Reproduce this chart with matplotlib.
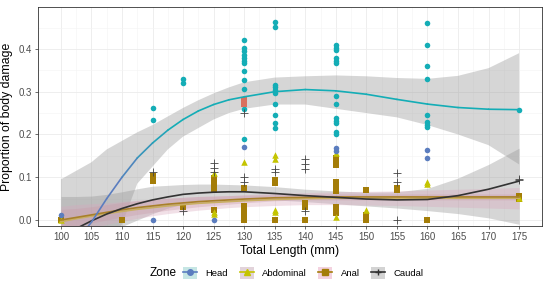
import numpy as np
import matplotlib
matplotlib.use("Agg")
import matplotlib.pyplot as plt
from matplotlib.collections import LineCollection
from matplotlib.colors import LinearSegmentedColormap
from matplotlib.patches import Patch
from matplotlib.lines import Line2D

plt.rcParams['font.family'] = ['Liberation Sans', 'DejaVu Sans']

# raw points
head_x = [115, 115, 120, 120] + [130] * 12 + [135] * 10 + [145] * 13 + [160] * 8 + [175]
head_y = [0.263, 0.233, 0.329, 0.321,
          0.422, 0.401, 0.396, 0.385, 0.378, 0.371, 0.366, 0.349, 0.327, 0.306, 0.26, 0.189,
          0.462, 0.452, 0.315, 0.31, 0.304, 0.296, 0.271, 0.245, 0.226, 0.215,
          0.409, 0.403, 0.397, 0.378, 0.371, 0.366, 0.29, 0.271, 0.238, 0.232, 0.226, 0.206, 0.2,
          0.46, 0.41, 0.36, 0.33, 0.245, 0.23, 0.222, 0.218,
          0.258]
head_lo_x = [100, 115, 125, 130, 145, 145, 160, 160]
head_lo_y = [0.012, 0.0, 0.0, 0.17, 0.168, 0.161, 0.164, 0.144]
head_odd_x = [130, 130]
head_odd_y = [0.28, 0.272]

abd_x = [100, 125, 125, 125, 130, 135, 135, 135, 135, 145, 145, 150, 160, 160, 175]
abd_y = [0.0, 0.111, 0.018, 0.015, 0.135, 0.152, 0.143, 0.023, 0.018, 0.156, 0.006, 0.023, 0.09, 0.085, 0.052]

anal_x = ([100, 110, 115, 115, 115, 120] + [125] * 5 + [130] * 7 + [135] * 3 + [140] * 3
          + [145] * 10 + [150] * 3 + [155, 155, 160, 175, 175])
anal_y = ([0.0, 0.0, 0.104, 0.098, 0.092, 0.03,
           0.098, 0.09, 0.08, 0.07, 0.023,
           0.075, 0.033, 0.025, 0.018, 0.01, 0.005, 0.0,
           0.093, 0.087, 0.0,
           0.04, 0.03, 0.0,
           0.145, 0.136, 0.128, 0.09, 0.082, 0.075, 0.068, 0.031, 0.023, 0.016,
           0.07, 0.012, 0.0,
           0.075, 0.07, 0.0, 0.05, 0.056])

caud_x = [115, 120, 125, 125, 125, 130, 130, 130, 135, 135, 140, 140, 140, 140, 155, 155, 155, 175, 175]
caud_y = [0.113, 0.02, 0.133, 0.122, 0.113, 0.25, 0.1, 0.09, 0.119, 0.113,
          0.142, 0.132, 0.12, 0.02, 0.109, 0.09, 0.0, 0.093, 0.096]

# smoothers (fit, lower, upper) read at these lengths
fit_x = [100, 102.5, 105, 107.5, 110, 112.5, 115, 117.5, 120, 122.5, 125, 127.5,
         130, 135, 140, 145, 150, 155, 160, 165, 170, 175]
head_fit = [-0.12, -0.05, -0.005, 0.05, 0.10, 0.145, 0.18, 0.21, 0.235, 0.255, 0.27, 0.281,
            0.288, 0.30, 0.305, 0.302, 0.294, 0.282, 0.271, 0.263, 0.259, 0.258]
head_lo = [-0.35, -0.25, -0.15, -0.07, -0.01, 0.085, 0.125, 0.165, 0.195, 0.215, 0.235, 0.25,
           0.26, 0.27, 0.27, 0.26, 0.25, 0.24, 0.222, 0.2, 0.175, 0.13]
head_hi = [0.095, 0.115, 0.135, 0.165, 0.185, 0.205, 0.222, 0.242, 0.262, 0.28, 0.296, 0.31,
           0.322, 0.333, 0.336, 0.338, 0.336, 0.332, 0.33, 0.337, 0.355, 0.39]

caud_fit = [-0.04, -0.02, -0.002, 0.014, 0.027, 0.038, 0.047, 0.054, 0.06, 0.063, 0.065, 0.066,
            0.066, 0.062, 0.057, 0.053, 0.049, 0.047, 0.048, 0.057, 0.072, 0.091]
caud_lo = [-0.13, -0.09, -0.06, -0.035, -0.015, 0.0, 0.015, 0.028, 0.037, 0.043, 0.047, 0.049,
           0.05, 0.047, 0.043, 0.038, 0.033, 0.028, 0.022, 0.015, 0.005, -0.01]
caud_hi = [0.055, 0.055, 0.056, 0.06, 0.066, 0.073, 0.079, 0.081, 0.083, 0.084, 0.084, 0.083,
           0.082, 0.078, 0.072, 0.068, 0.065, 0.066, 0.074, 0.098, 0.13, 0.168]

anal_fit = [0.0, 0.006, 0.012, 0.018, 0.024, 0.029, 0.033, 0.037, 0.04, 0.043, 0.045, 0.047,
            0.049, 0.052, 0.053, 0.054, 0.054, 0.054, 0.054, 0.054, 0.054, 0.054]
anal_lo = [-0.025, -0.015, -0.007, 0.0, 0.007, 0.013, 0.018, 0.023, 0.027, 0.031, 0.034, 0.037,
           0.04, 0.045, 0.047, 0.047, 0.047, 0.047, 0.047, 0.047, 0.047, 0.047]
anal_hi = [0.025, 0.027, 0.031, 0.036, 0.041, 0.045, 0.048, 0.051, 0.053, 0.055, 0.056, 0.057,
           0.058, 0.059, 0.06, 0.061, 0.061, 0.061, 0.061, 0.061, 0.061, 0.061]

abd_fit = [-0.004, 0.003, 0.009, 0.015, 0.02, 0.025, 0.029, 0.033, 0.036, 0.039, 0.041, 0.043,
           0.045, 0.048, 0.05, 0.051, 0.051, 0.051, 0.051, 0.051, 0.051, 0.051]
abd_lo = [-0.04, -0.03, -0.02, -0.01, -0.003, 0.004, 0.01, 0.015, 0.019, 0.023, 0.026, 0.029,
          0.031, 0.034, 0.036, 0.036, 0.035, 0.034, 0.032, 0.03, 0.028, 0.026]
abd_hi = [0.032, 0.036, 0.038, 0.04, 0.043, 0.046, 0.048, 0.051, 0.053, 0.055, 0.056, 0.057,
          0.059, 0.062, 0.064, 0.066, 0.067, 0.068, 0.07, 0.072, 0.074, 0.076]

zones = ['Head', 'Abdominal', 'Anal', 'Caudal']

TEAL = '#14adb6'
BLUE = '#5b7dbf'
YEL = '#c4c400'
BROWN = '#a47d08'
CAUD = '#333333'

fig = plt.figure(figsize=(5.5, 2.88), dpi=100)
ax = fig.add_axes([38 / 550, 1 - 226 / 288, 504 / 550, 219 / 288])

# ribbons
rib = dict(color='#999999', alpha=0.4, lw=0, zorder=1)
ax.fill_between(fit_x, head_lo, head_hi, **rib)
ax.fill_between(fit_x, caud_lo, caud_hi, **rib)
ax.fill_between(fit_x, abd_lo, abd_hi, color='#d9a7bd', alpha=0.35, lw=0, zorder=1)
ax.fill_between(fit_x, anal_lo, anal_hi, color='#c99aa8', alpha=0.35, lw=0, zorder=1)

# points
ax.scatter(anal_x, anal_y, marker='s', s=16, color=BROWN, lw=0, zorder=3)
ax.scatter(abd_x, abd_y, marker='^', s=22, color=YEL, lw=0, zorder=3)
ax.scatter(head_x, head_y, marker='o', s=16, color=TEAL, lw=0, zorder=3)
ax.scatter(head_lo_x, head_lo_y, marker='o', s=16, color=BLUE, lw=0, zorder=3)
ax.scatter(head_odd_x, head_odd_y, marker='s', s=14, color='#d9705e', lw=0, zorder=3)
ax.scatter(caud_x, caud_y, marker='+', s=30, color='#444444', lw=0.6, zorder=4)

# smoother lines
ax.plot(fit_x, abd_fit, color='#c8ae62', lw=1.2, zorder=5)
ax.plot(fit_x, anal_fit, color='#a8802a', lw=1.2, zorder=5)
ax.plot(fit_x, caud_fit, color=CAUD, lw=1.2, zorder=5)

# head line goes from blue to teal as it climbs
cmap = LinearSegmentedColormap.from_list('hd', [BLUE, TEAL])
pts = np.column_stack([fit_x, head_fit])
segs = np.stack([pts[:-1], pts[1:]], axis=1)
mid = (pts[:-1, 1] + pts[1:, 1]) / 2
lc = LineCollection(segs, colors=cmap(np.clip((mid - 0.1) / 0.12, 0, 1)), lw=1.2, zorder=5,
                    capstyle='round')
ax.add_collection(lc)

ax.set_xlim(96.25, 178.75)
ax.set_ylim(-0.014, 0.498)
ax.set_xticks(np.arange(100, 176, 5))
ax.set_xticks(np.arange(102.5, 176, 5), minor=True)
ax.set_yticks([0.0, 0.1, 0.2, 0.3, 0.4])
ax.set_yticks([0.05, 0.15, 0.25, 0.35, 0.45], minor=True)
ax.set_yticklabels(['0.0', '0.1', '0.2', '0.3', '0.4'])
ax.grid(which='major', color='#ebebeb', lw=0.6)
ax.grid(which='minor', color='#f4f4f4', lw=0.4)
ax.set_axisbelow(True)
for s in ax.spines.values():
    s.set_color('#333333')
    s.set_linewidth(0.6)
ax.tick_params(which='major', length=2.5, width=0.5, color='#333333', labelsize=7,
               labelcolor='#4d4d4d', pad=2)
ax.tick_params(which='minor', length=0)

ax.set_xlabel('Total Length (mm)', fontsize=8.8, labelpad=2)
ax.set_ylabel('Proportion of body damage', fontsize=8.8, labelpad=4)

# legend
fills = ['#c6e6e4', '#e2d3da', '#f3d2df', '#d3d3d3']
cols = [BLUE, YEL, BROWN, CAUD]
marks = ['o', '^', 's', '+']
handles = []
for f, c, m in zip(fills, cols, marks):
    handles.append((Patch(facecolor=f, edgecolor='none'),
                    Line2D([], [], color=c, marker=m, markersize=4, lw=1.2)))
fig.text(150 / 550, 1 - 273 / 288, 'Zone', fontsize=8.5, va='center', ha='left')
fig.legend(handles, zones, loc='center left', bbox_to_anchor=(183 / 550, 1 - 273 / 288),
           ncol=4, frameon=False, fontsize=6.8, handlelength=1.5, handleheight=1.5,
           columnspacing=1.2, handletextpad=0.9, borderpad=0, borderaxespad=0)

fig.savefig('out.png', dpi=100)
